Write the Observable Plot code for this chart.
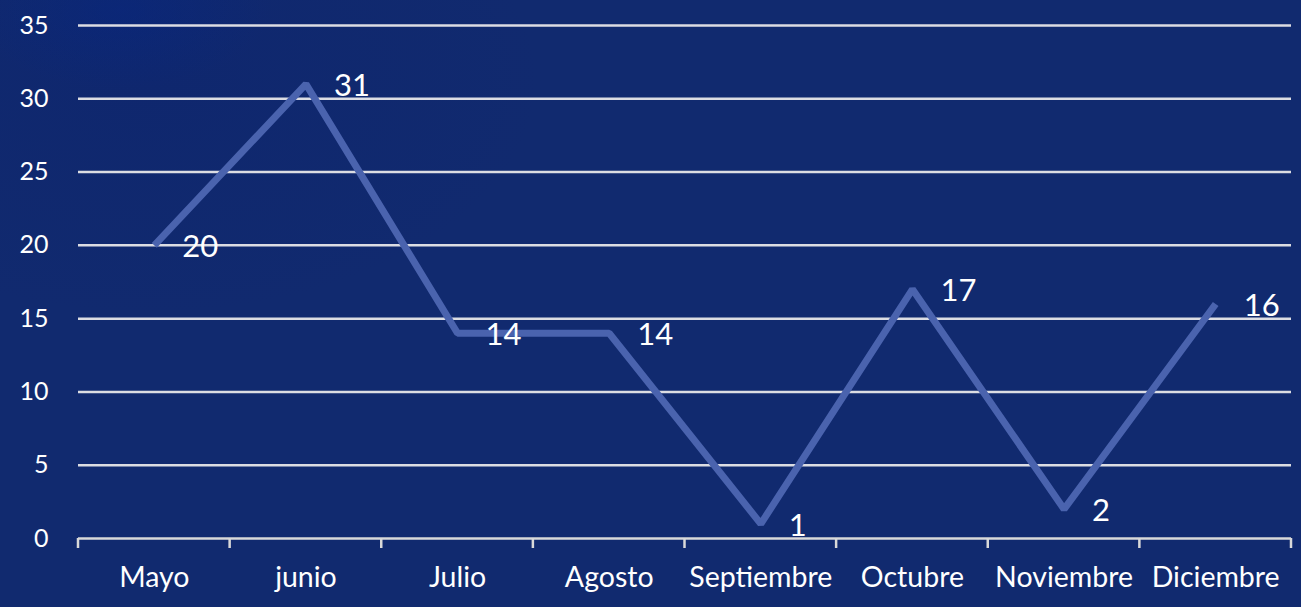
<!DOCTYPE html>
<html>
<head>
<meta charset="utf-8">
<script src="https://cdn.jsdelivr.net/npm/d3@7"></script>
<script src="https://cdn.jsdelivr.net/npm/@observablehq/plot@0.6"></script>
<style>
  html, body { margin: 0; padding: 0; }
  body {
    width: 1301px; height: 607px; overflow: hidden;
    background:
      radial-gradient(ellipse 150px 80px at 120px 10px, rgba(6,38,130,0.45), rgba(6,38,130,0) 100%),
      radial-gradient(ellipse 400px 240px at 150px 80px, rgba(10,32,108,0.3), rgba(10,32,108,0) 100%),
      #112a6f;
  }
  #chart svg { display: block; background: transparent; }
</style>
</head>
<body>
<div id="chart"></div>
<script>
const months = ["Mayo", "junio", "Julio", "Agosto", "Septiembre", "Octubre", "Noviembre", "Diciembre"];
const values = [20, 31, 14, 14, 1, 17, 2, 16];
const yTicks = [0, 5, 10, 15, 20, 25, 30, 35];

const data = months.map((m, i) => ({ i, month: m, value: values[i] }));
const boundaries = d3.range(months.length + 1).map(k => k - 0.5);

const plot = Plot.plot({
  width: 1301,
  height: 607,
  marginLeft: 78,
  marginRight: 10,
  marginTop: 25,
  marginBottom: 69,
  style: { fontFamily: "Lato, 'Open Sans', sans-serif", color: "#ffffff", background: "transparent" },
  x: { type: "linear", domain: [-0.5, months.length - 0.5], label: null },
  y: { domain: [0, 35], label: null },
  marks: [
    Plot.ruleY(yTicks.filter(t => t > 0), { stroke: "#dcdde3", strokeWidth: 2.5 }),
    Plot.ruleY([0], { stroke: "#d9d9d9", strokeWidth: 2.5 }),
    Plot.axisY({ ticks: yTicks, tickSize: 0, tickPadding: 30, fontSize: 25, fill: "#ffffff", label: null }),
    Plot.axisX({ ticks: d3.range(months.length), tickFormat: i => months[i], tickSize: 0, tickPadding: 28, fontSize: 28.5, fill: "#ffffff", label: null }),
    Plot.lineY(data, { x: "i", y: "value", stroke: "#4a63ae", strokeWidth: 7, strokeLinejoin: "miter", strokeLinecap: "butt" }),
    Plot.text(data, { x: "i", y: "value", text: d => String(d.value), textAnchor: "start", dx: 28, dy: 2, fontSize: 31, fill: "#ffffff" })
  ]
});

document.getElementById("chart").appendChild(plot);

// boundary tick marks below the axis line, positioned with the x scale
const svg = d3.select(plot);
const xs = plot.scale("x");
const ys = plot.scale("y");
const y0 = ys.apply(0);
svg.append("g").attr("class", "boundary-ticks")
  .selectAll("line")
  .data(boundaries)
  .join("line")
  .attr("x1", d => xs.apply(d))
  .attr("x2", d => xs.apply(d))
  .attr("y1", y0)
  .attr("y2", y0 + 10)
  .attr("stroke", "#d9d9d9")
  .attr("stroke-width", 2.5);
</script>
</body>
</html>
